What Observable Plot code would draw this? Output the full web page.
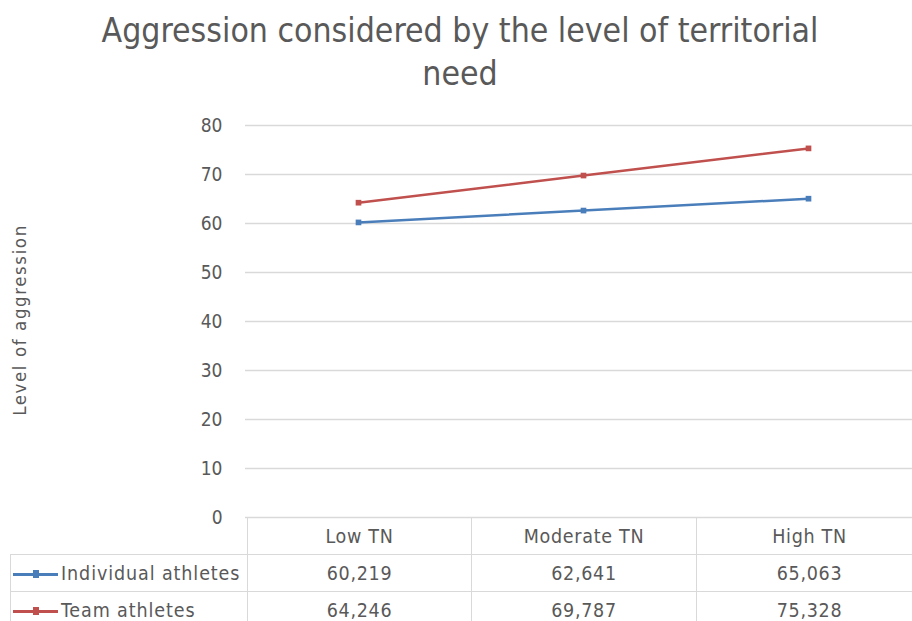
<!DOCTYPE html>
<html><head><meta charset="utf-8">
<script src="https://cdn.jsdelivr.net/npm/d3@7"></script>
<script src="https://cdn.jsdelivr.net/npm/@observablehq/plot@0.6"></script>
<style>
body{margin:0;background:#fff;width:912px;height:621px;overflow:hidden;position:relative;font-family:"Liberation Sans Narrow","DejaVu Sans Condensed","Liberation Sans",sans-serif;color:#595959}
#title{position:absolute;left:80px;width:760px;top:9px;text-align:center;font-size:33.5px;line-height:43px;color:#595959}
#ylab{position:absolute;left:19px;top:320px;transform:translate(-50%,-50%) rotate(-90deg);font-size:18.5px;letter-spacing:1.6px;white-space:nowrap;color:#595959}
#chart{position:absolute;left:0;top:100px}
table{position:absolute;left:10px;top:517px;border-collapse:collapse;table-layout:fixed;width:912px;font-size:19.5px;letter-spacing:0.7px;color:#595959}
td{border:1px solid #d9d9d9;text-align:center;padding:0;height:36px;overflow:hidden}
td.first{text-align:left;white-space:nowrap;letter-spacing:0.9px}
td.blank{border:none;border-right:1px solid #d9d9d9}
.key{display:inline-block;vertical-align:middle;position:relative;width:45px;height:10px;margin-left:2px;margin-right:3px}
.key i{position:absolute;left:0;top:4px;width:45px;height:3px}
.key b{position:absolute;left:20px;top:1px;width:6px;height:8px}
</style></head><body>
<div id="title">Aggression considered by the level of territorial need</div>
<div id="ylab">Level of aggression</div>
<div id="chart"></div>
<table id="tbl"><colgroup><col style="width:237px"><col style="width:224px"><col style="width:225px"><col style="width:226px"></colgroup><tbody id="tb"></tbody></table>
<script>
const categories = ["Low TN", "Moderate TN", "High TN"];
const seriesNames = ["Individual athletes", "Team athletes"];
const individual = [60.219, 62.641, 65.063];
const team = [64.246, 69.787, 75.328];
const individualLabels = ["60,219", "62,641", "65,063"];
const teamLabels = ["64,246", "69,787", "75,328"];
const yTicks = [0, 10, 20, 30, 40, 50, 60, 70, 80];
const colors = ["#4a7ebb", "#c0504d"];

const data = [];
categories.forEach((c, i) => {
  data.push({cat: c, series: seriesNames[0], value: individual[i]});
  data.push({cat: c, series: seriesNames[1], value: team[i]});
});

const plot = Plot.plot({
  width: 912, height: 430,
  marginTop: 25, marginBottom: 13, marginLeft: 245, marginRight: 0,
  style: {fontFamily: '"Liberation Sans Narrow","DejaVu Sans Condensed","Liberation Sans",sans-serif', fontSize: "19px", color: "#595959", background: "transparent"},
  x: {type: "point", domain: categories, range: [358, 808], padding: 0, axis: null},
  y: {domain: [0, 80], ticks: yTicks, label: null},
  color: {domain: seriesNames, range: colors},
  marks: [
    Plot.ruleY(yTicks.filter(d => d > 0), {stroke: "#d9d9d9", strokeWidth: 1.5}),
    Plot.ruleY([0], {stroke: "#d9d9d9", strokeWidth: 1.5}),
    Plot.axisY({ticks: yTicks, tickSize: 0, tickPadding: 23, label: null, fill: "#595959", fontSize: 19}),
    Plot.line(data, {x: "cat", y: "value", stroke: "series", z: "series", strokeWidth: 2.5}),
    Plot.dot(data, {x: "cat", y: "value", fill: "series", symbol: "square", r: 3.2})
  ]
});
document.getElementById("chart").appendChild(plot);

const tb = document.getElementById("tb");
let html = '<tr><td class="first blank"></td>' + categories.map(c => `<td>${c}</td>`).join("") + '</tr>';
const rows = [[seriesNames[0], individualLabels, colors[0]], [seriesNames[1], teamLabels, colors[1]]];
rows.forEach(([name, labels, col]) => {
  html += `<tr><td class="first"><span class="key"><i style="background:${col}"></i><b style="background:${col}"></b></span>${name}</td>` +
    labels.map(v => `<td>${v}</td>`).join("") + '</tr>';
});
tb.innerHTML = html;
</script>
</body></html>
